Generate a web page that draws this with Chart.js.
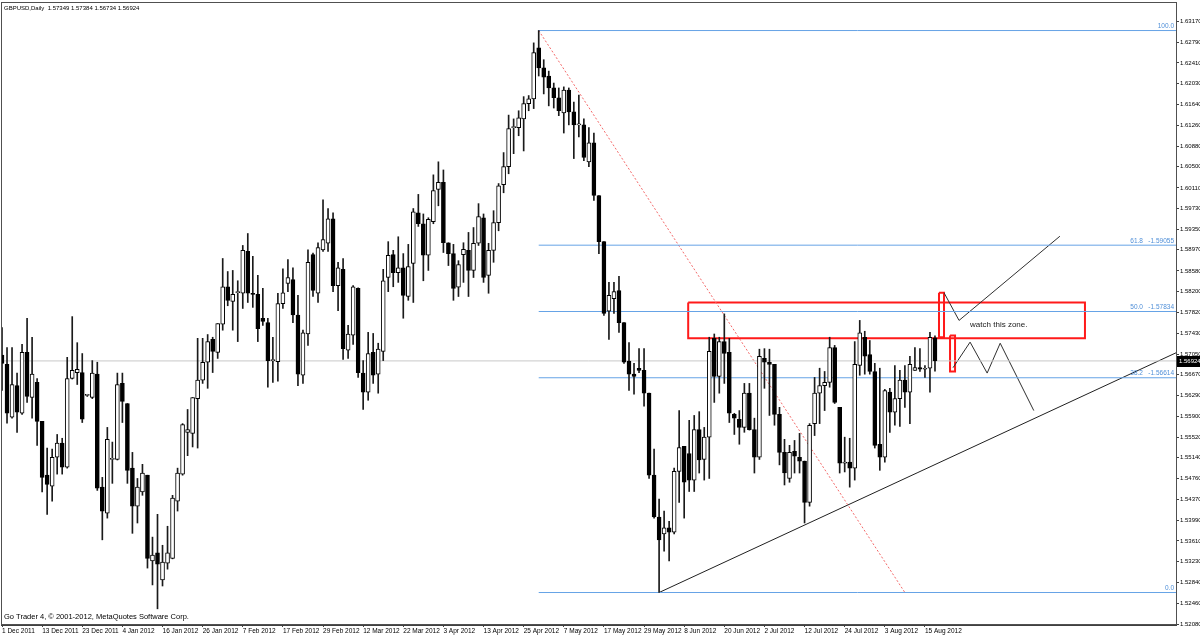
<!DOCTYPE html>
<html>
<head>
<meta charset="utf-8">
<title>GBPUSD,Daily</title>
<script src="https://cdn.jsdelivr.net/npm/chart.js@4.4.1/dist/chart.umd.min.js"></script>
<style>
  html, body { margin: 0; padding: 0; background: #fff; }
  canvas { display: block; }
</style>
</head>
<body>
<canvas id="chart" width="1200" height="635"></canvas>
<script>
// GBPUSD daily bars, index 0 = 1 Dec 2011, last = 17 Aug 2012
const opens = [
  1.5703, 1.5686, 1.5589, 1.5647, 1.5596, 1.5708, 1.5625, 1.5653, 1.5581, 1.5482,
  1.5462, 1.5515, 1.5541, 1.5497, 1.5660, 1.5671, 1.5671, 1.5629, 1.5625, 1.5668,
  1.5460, 1.5412, 1.5511, 1.5511, 1.5651, 1.5614, 1.5495, 1.5425, 1.5451, 1.5482,
  1.5324, 1.5339, 1.5289, 1.5320, 1.5329, 1.5434, 1.5484, 1.5561, 1.5559, 1.5623,
  1.5657, 1.5690, 1.5732, 1.5708, 1.5760, 1.5829, 1.5802, 1.5818, 1.5817, 1.5894,
  1.5817, 1.5815, 1.5771, 1.5763, 1.5693, 1.5691, 1.5798, 1.5835, 1.5842, 1.5777,
  1.5666, 1.5742, 1.5888, 1.5817, 1.5897, 1.5909, 1.5954, 1.5831, 1.5861, 1.5712,
  1.5740, 1.5826, 1.5670, 1.5635, 1.5708, 1.5668, 1.5710, 1.5846, 1.5888, 1.5855,
  1.5864, 1.5811, 1.5872, 1.5965, 1.5945, 1.5887, 1.5949, 1.6008, 1.6021, 1.5910,
  1.5890, 1.5828, 1.5888, 1.5896, 1.5859, 1.5909, 1.5956, 1.5850, 1.5896, 1.5947,
  1.6017, 1.6050, 1.6122, 1.6122, 1.6138, 1.6166, 1.6175, 1.6269, 1.6232, 1.6217,
  1.6195, 1.6177, 1.6149, 1.6191, 1.6151, 1.6127, 1.6127, 1.6059, 1.6094, 1.5997,
  1.5912, 1.5784, 1.5807, 1.5822, 1.5763, 1.5692, 1.5668, 1.5679, 1.5675, 1.5633,
  1.5482, 1.5405, 1.5374, 1.5385, 1.5377, 1.5489, 1.5535, 1.5522, 1.5473, 1.5566,
  1.5511, 1.5552, 1.5734, 1.5664, 1.5728, 1.5708, 1.5594, 1.5585, 1.5570, 1.5633,
  1.5566, 1.5515, 1.5697, 1.5690, 1.5686, 1.5594, 1.5524, 1.5476, 1.5526, 1.5515,
  1.5508, 1.5432, 1.5577, 1.5633, 1.5647, 1.5653, 1.5717, 1.5607, 1.5504, 1.5506,
  1.5495, 1.5684, 1.5736, 1.5704, 1.5673, 1.5539, 1.5515, 1.5635, 1.5598, 1.5623,
  1.5657, 1.5635, 1.5675, 1.5680, 1.5677, 1.5679, 1.57349
];
const highs = [
  1.5754, 1.5717, 1.5717, 1.5670, 1.5723, 1.5771, 1.5736, 1.5660, 1.5581, 1.5532,
  1.5530, 1.5557, 1.5550, 1.5699, 1.5774, 1.5726, 1.5706, 1.5631, 1.5693, 1.5690,
  1.5478, 1.5570, 1.5543, 1.5670, 1.5670, 1.5614, 1.5524, 1.5476, 1.5502, 1.5482,
  1.5368, 1.5410, 1.5353, 1.5388, 1.5445, 1.5495, 1.5577, 1.5603, 1.5625, 1.5734,
  1.5734, 1.5741, 1.5736, 1.5761, 1.5881, 1.5857, 1.5859, 1.5840, 1.5905, 1.5927,
  1.5885, 1.5850, 1.5826, 1.5771, 1.5736, 1.5817, 1.5862, 1.5879, 1.5864, 1.5813,
  1.5749, 1.5897, 1.5891, 1.5910, 1.5989, 1.5973, 1.5965, 1.5874, 1.5881, 1.5758,
  1.5831, 1.5827, 1.5693, 1.5745, 1.5743, 1.5725, 1.5861, 1.5912, 1.5896, 1.5921,
  1.5890, 1.5907, 1.5973, 1.5999, 1.5963, 1.5956, 1.6035, 1.6059, 1.6044, 1.5910,
  1.5907, 1.5877, 1.5910, 1.5929, 1.5938, 1.5982, 1.5963, 1.5909, 1.5969, 1.6019,
  1.6076, 1.6145, 1.6138, 1.6153, 1.6179, 1.6181, 1.6278, 1.63007, 1.6247, 1.6226,
  1.6204, 1.6195, 1.6197, 1.6195, 1.6169, 1.6182, 1.6138, 1.6122, 1.6112, 1.5997,
  1.5912, 1.5837, 1.5837, 1.5848, 1.5763, 1.5726, 1.5688, 1.5715, 1.5715, 1.5633,
  1.5530, 1.5438, 1.5416, 1.5397, 1.5495, 1.5601, 1.5535, 1.5583, 1.5592, 1.5599,
  1.5570, 1.5736, 1.5742, 1.5736, 1.5779, 1.5734, 1.5596, 1.5601, 1.5651, 1.5651,
  1.5587, 1.5714, 1.5715, 1.5714, 1.5686, 1.5607, 1.5548, 1.5537, 1.5546, 1.5559,
  1.5508, 1.5577, 1.5662, 1.5679, 1.5673, 1.5736, 1.5721, 1.5607, 1.5552, 1.5550,
  1.5728, 1.5767, 1.5747, 1.5730, 1.5688, 1.5679, 1.5640, 1.5642, 1.5684, 1.5675,
  1.5684, 1.5701, 1.5717, 1.5715, 1.5684, 1.5745, 1.57384
];
const lows = [
  1.5638, 1.5578, 1.5587, 1.5561, 1.5594, 1.5616, 1.5587, 1.5537, 1.5451, 1.5410,
  1.5434, 1.5484, 1.5484, 1.5495, 1.5659, 1.5649, 1.5579, 1.5627, 1.5623, 1.5454,
  1.5363, 1.5403, 1.5467, 1.5510, 1.5579, 1.5467, 1.5375, 1.5394, 1.5445, 1.5311,
  1.5280, 1.5236, 1.5278, 1.5309, 1.5328, 1.5416, 1.5482, 1.5518, 1.5534, 1.5532,
  1.5651, 1.5642, 1.5671, 1.5697, 1.5749, 1.5794, 1.5749, 1.5728, 1.5789, 1.5800,
  1.5791, 1.5728, 1.5758, 1.5644, 1.5653, 1.5655, 1.5789, 1.5820, 1.5763, 1.5647,
  1.5651, 1.5721, 1.5811, 1.5800, 1.5894, 1.5894, 1.5820, 1.5785, 1.5695, 1.5697,
  1.5723, 1.5662, 1.5603, 1.5620, 1.5651, 1.5633, 1.5693, 1.5820, 1.5829, 1.5837,
  1.5771, 1.5804, 1.5800, 1.5940, 1.5840, 1.5859, 1.5945, 1.5978, 1.5892, 1.5868,
  1.5804, 1.5811, 1.5837, 1.5811, 1.5846, 1.5905, 1.5837, 1.5817, 1.5874, 1.5932,
  1.6002, 1.6037, 1.6074, 1.6107, 1.6079, 1.6153, 1.6157, 1.6217, 1.6184, 1.6162,
  1.6158, 1.6144, 1.6112, 1.6127, 1.6065, 1.6105, 1.6061, 1.6050, 1.5988, 1.5890,
  1.5776, 1.5732, 1.5780, 1.5745, 1.5688, 1.5638, 1.5631, 1.5671, 1.5609, 1.5476,
  1.5403, 1.5266, 1.5342, 1.5324, 1.5374, 1.5432, 1.5403, 1.5452, 1.5452, 1.5486,
  1.5473, 1.5476, 1.5616, 1.5633, 1.5651, 1.5579, 1.5557, 1.5539, 1.5561, 1.5565,
  1.5486, 1.5511, 1.5642, 1.5592, 1.5574, 1.5501, 1.5464, 1.5469, 1.5486, 1.5486,
  1.5394, 1.5425, 1.5555, 1.5577, 1.5601, 1.5644, 1.5614, 1.5486, 1.5488, 1.5460,
  1.5473, 1.5666, 1.5668, 1.5668, 1.5532, 1.5491, 1.5506, 1.5561, 1.5574, 1.5572,
  1.5607, 1.5577, 1.5675, 1.5673, 1.5662, 1.5635, 1.56734
];
const closes = [
  1.5688, 1.5596, 1.5649, 1.5598, 1.5708, 1.5627, 1.5668, 1.5581, 1.5478, 1.5465,
  1.5515, 1.5541, 1.5497, 1.5660, 1.5675, 1.5677, 1.5585, 1.5629, 1.5670, 1.5458,
  1.5416, 1.5548, 1.5511, 1.5649, 1.5618, 1.5491, 1.5425, 1.5460, 1.5486, 1.5329,
  1.5335, 1.5318, 1.5322, 1.5339, 1.5440, 1.5486, 1.5575, 1.5566, 1.5625, 1.5657,
  1.5690, 1.5728, 1.5710, 1.5761, 1.5829, 1.5804, 1.5815, 1.5820, 1.5896, 1.5817,
  1.5815, 1.5752, 1.5765, 1.5693, 1.5693, 1.5798, 1.5818, 1.5846, 1.5777, 1.5668,
  1.5744, 1.5874, 1.5822, 1.5901, 1.5916, 1.5954, 1.5831, 1.5864, 1.5715, 1.5742,
  1.5829, 1.5671, 1.5635, 1.5706, 1.5666, 1.5714, 1.5840, 1.5887, 1.5855, 1.5864,
  1.5813, 1.5866, 1.5967, 1.5945, 1.5887, 1.5953, 1.6006, 1.6021, 1.5910, 1.5890,
  1.5826, 1.5870, 1.5898, 1.5859, 1.5909, 1.5958, 1.5846, 1.5896, 1.5947, 1.6015,
  1.6050, 1.6120, 1.6124, 1.6140, 1.6166, 1.6175, 1.6260, 1.6232, 1.6215, 1.6195,
  1.6177, 1.6153, 1.6191, 1.6151, 1.6127, 1.6127, 1.6067, 1.6094, 1.5997, 1.5912,
  1.5780, 1.5813, 1.5820, 1.5763, 1.5690, 1.5668, 1.5664, 1.5675, 1.5633, 1.5482,
  1.5405, 1.5363, 1.5385, 1.5377, 1.5489, 1.5533, 1.5469, 1.5473, 1.5566, 1.5510,
  1.5552, 1.5710, 1.5664, 1.5728, 1.5706, 1.5596, 1.5587, 1.5570, 1.5633, 1.5566,
  1.5515, 1.5701, 1.5690, 1.5686, 1.5594, 1.5524, 1.5486, 1.5524, 1.5517, 1.5508,
  1.5432, 1.5574, 1.5633, 1.5647, 1.5653, 1.5717, 1.5616, 1.5504, 1.5506, 1.5495,
  1.5686, 1.5744, 1.5701, 1.5673, 1.5537, 1.5515, 1.5638, 1.5598, 1.5623, 1.5657,
  1.5635, 1.5686, 1.5680, 1.5677, 1.5679, 1.5736, 1.56924
];

// one date label every 8 bars
const dateLabels = [
  "1 Dec 2011", "13 Dec 2011", "23 Dec 2011", "4 Jan 2012", "16 Jan 2012", "26 Jan 2012",
  "7 Feb 2012", "17 Feb 2012", "29 Feb 2012", "12 Mar 2012", "22 Mar 2012", "3 Apr 2012",
  "13 Apr 2012", "25 Apr 2012", "7 May 2012", "17 May 2012", "29 May 2012", "8 Jun 2012",
  "20 Jun 2012", "2 Jul 2012", "12 Jul 2012", "24 Jul 2012", "3 Aug 2012", "15 Aug 2012"
];
const labelStep = 8;

const priceTicks = [
  1.63170, 1.62790, 1.62410, 1.62030, 1.61640, 1.61260, 1.60880, 1.60500, 1.60110, 1.59730,
  1.59350, 1.58970, 1.58580, 1.58200, 1.57820, 1.57430, 1.57050, 1.56670, 1.56290, 1.55900,
  1.55520, 1.55140, 1.54760, 1.54370, 1.53990, 1.53610, 1.53230, 1.52840, 1.52460, 1.52080
];
const priceMin = 1.52062;
const priceMax = 1.63514;
const barMin = -0.2;
const barMax = 234.05;

// fibonacci retracement drawn from the 30 Apr high to the 1 Jun low
const fibLabels = ["100.0", "61.8   -1.59055", "50.0   -1.57834", "38.2   -1.56614", "0.0"];
const fibPrices = [1.63007, 1.59055, 1.57834, 1.56614, 1.52660];
const fibStartBar = 107;

const bidPrice = 1.56924;
const header = "GBPUSD,Daily  1.57349 1.57384 1.56734 1.56924";
const footer = "Go Trader 4, \u00a9 2001-2012, MetaQuotes Software Corp.";
const zoneNote = "watch this zone.";

// hand drawn objects, points as [bar, price]
const redDashLine = [[107, 1.63007], [180, 1.5266]];
const supportLine = [[131, 1.5266], [234.2, 1.5708]];
const upPath = [[187.8, 1.5818], [190.8, 1.5767], [210.9, 1.5922]];
const downPath = [[189.6, 1.5680], [193.0, 1.5727], [196.4, 1.5670], [199.0, 1.5725], [205.7, 1.5601]];
// boxes as [fromBar, toBar, topPrice, bottomPrice]
const zoneBox = [136.8, 215.9, 1.5800, 1.5734];
const upBox = [186.8, 187.8, 1.5818, 1.5736];
const downBox = [189.0, 190.0, 1.5739, 1.5673];

const FONT = "'Liberation Sans', Arial, sans-serif";

const pts = arr => arr.map(p => ({x: p[0], y: p[1]}));
const box = b => [
  {x: b[0], y: b[2]}, {x: b[1], y: b[2]}, {x: b[1], y: b[3]}, {x: b[0], y: b[3]}, {x: b[0], y: b[2]}
];
const lineSet = (data, color, width, dash) => ({
  type: "line",
  data,
  borderColor: color,
  borderWidth: width,
  borderDash: dash || [],
  pointRadius: 0,
  tension: 0,
  fill: false,
  order: 3,
});

const bars = opens.map((o, i) => i);
const wickData = bars.map(i => ({x: i, y: [lows[i], highs[i]]}));
const bodyData = bars.map(i => ({x: i, y: [opens[i], closes[i]]}));
const bodyFill = bars.map(i => (closes[i] >= opens[i] ? "#ffffff" : "#000000"));

const datasets = [
  {
    type: "bar",
    data: bodyData,
    backgroundColor: bodyFill,
    borderColor: "#000000",
    borderWidth: 1,
    borderSkipped: false,
    grouped: false,
    categoryPercentage: 1,
    barPercentage: 1,
    maxBarThickness: 4,
    minBarLength: 1,
    order: 0,
  },
  {
    type: "bar",
    data: wickData,
    backgroundColor: "#1a1a1a",
    borderWidth: 0,
    grouped: false,
    categoryPercentage: 1,
    barPercentage: 1,
    maxBarThickness: 1,
    order: 1,
  },
  lineSet([{x: barMin, y: bidPrice}, {x: barMax, y: bidPrice}], "#c8c8c8", 1),
];
fibPrices.forEach(p => {
  datasets.push(lineSet([{x: fibStartBar, y: p}, {x: barMax, y: p}], "#66a3e6", 1));
});
datasets.push(lineSet(pts(redDashLine), "#f46a6a", 1, [2, 2]));
datasets.push(lineSet(pts(supportLine), "#202020", 1));
datasets.push(lineSet(pts(upPath), "#303030", 1));
datasets.push(lineSet(pts(downPath), "#303030", 1));
datasets.push(lineSet(box(zoneBox), "#ff1a1a", 2));
datasets.push(lineSet(box(upBox), "#ff1a1a", 2));
datasets.push(lineSet(box(downBox), "#ff1a1a", 2));

const overlay = {
  id: "overlay",
  beforeDraw(chart) {
    const {ctx} = chart;
    ctx.save();
    ctx.fillStyle = "#ffffff";
    ctx.fillRect(0, 0, chart.width, chart.height);
    ctx.restore();
  },
  afterDraw(chart) {
    const {ctx, chartArea: a, scales: {x, y}} = chart;
    ctx.save();
    // frame
    ctx.strokeStyle = "#505050";
    ctx.lineWidth = 1;
    ctx.strokeRect(a.left + 0.5, a.top - 0.5, a.right - a.left, a.bottom - a.top);

    // fibo level captions
    ctx.font = "6.5px " + FONT;
    ctx.fillStyle = "#4f8fd8";
    ctx.textAlign = "right";
    ctx.textBaseline = "bottom";
    fibPrices.forEach((p, k) => {
      ctx.fillText(fibLabels[k], a.right - 2, y.getPixelForValue(p) - 1);
    });

    // bid price box on the axis
    const by = Math.round(y.getPixelForValue(bidPrice));
    ctx.fillStyle = "#000000";
    ctx.fillRect(a.right + 1, by - 5, chart.width - a.right - 1, 11);
    ctx.fillStyle = "#ffffff";
    ctx.textAlign = "left";
    ctx.textBaseline = "middle";
    ctx.font = "6px " + FONT;
    ctx.fillText(bidPrice.toFixed(5), a.right + 3, by + 0.5);

    // header and footer
    ctx.fillStyle = "#000000";
    ctx.font = "6px " + FONT;
    ctx.fillText(header, 4, 8);
    ctx.font = "7.5px " + FONT;
    ctx.fillText(footer, 4, a.bottom - 8);

    // note inside the zone
    ctx.font = "8px " + FONT;
    ctx.fillStyle = "#202020";
    ctx.fillText(zoneNote, x.getPixelForValue(193), y.getPixelForValue(1.57594));
    ctx.restore();
  },
};

new Chart(document.getElementById("chart"), {
  type: "bar",
  data: {datasets},
  options: {
    responsive: false,
    animation: false,
    devicePixelRatio: 1,
    layout: {autoPadding: false, padding: {left: 1, top: 3, right: 0, bottom: 0}},
    plugins: {legend: {display: false}, tooltip: {enabled: false}},
    scales: {
      x: {
        type: "linear",
        min: barMin,
        max: barMax,
        offset: false,
        grid: {offset: false, drawOnChartArea: false, drawTicks: true, tickLength: 2, color: "#404040"},
        border: {display: true, color: "#404040"},
        ticks: {
          autoSkip: false,
          maxRotation: 0,
          align: "start",
          padding: 0,
          color: "#000000",
          font: {family: FONT, size: 6.5},
          callback: (v, k) => dateLabels[k],
        },
        afterBuildTicks: scale => {
          scale.ticks = dateLabels.map((d, k) => ({value: k * labelStep}));
        },
        afterFit: scale => {
          scale.height = 10;
          scale.paddingLeft = 0;
          scale.paddingRight = 0;
        },
      },
      y: {
        type: "linear",
        position: "right",
        min: priceMin,
        max: priceMax,
        grid: {drawOnChartArea: false, drawTicks: true, tickLength: 3, color: "#404040"},
        border: {display: true, color: "#404040"},
        ticks: {
          padding: 1,
          color: "#000000",
          font: {family: FONT, size: 6},
          callback: v => v.toFixed(5),
        },
        afterBuildTicks: scale => {
          scale.ticks = priceTicks.map(v => ({value: v}));
        },
        afterFit: scale => {
          scale.width = 24;
          scale.paddingTop = 0;
          scale.paddingBottom = 0;
        },
      },
    },
  },
  plugins: [overlay],
});
</script>
</body>
</html>
